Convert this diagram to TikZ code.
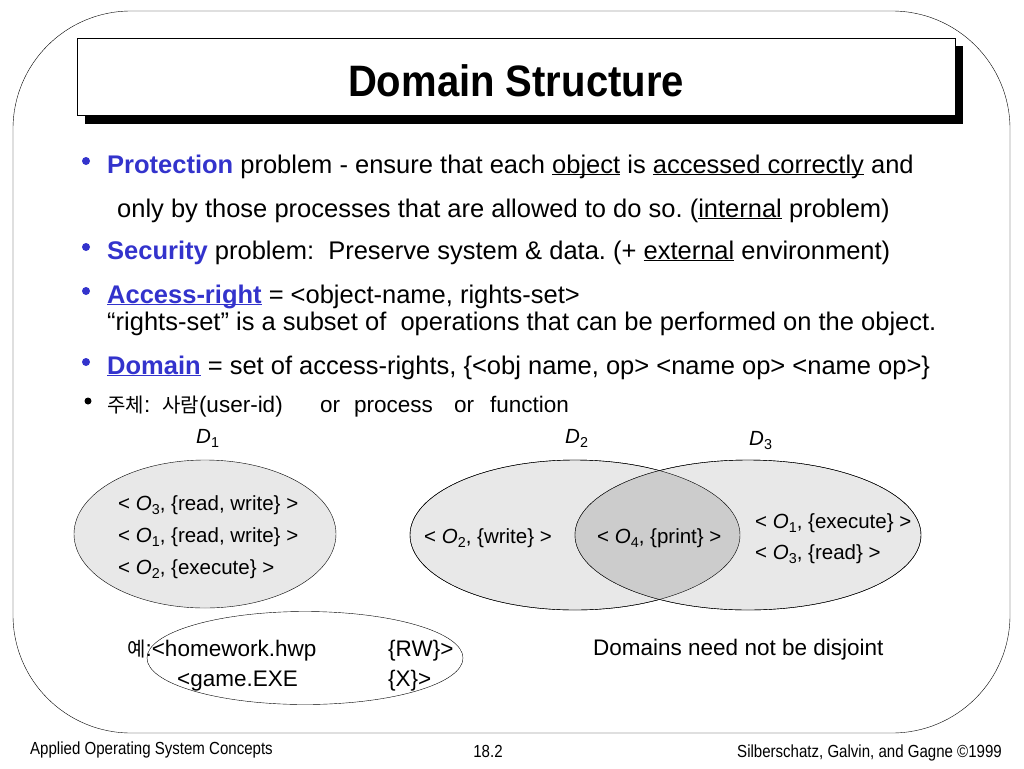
\documentclass[tikz,border=0pt]{standalone}
\usepackage{fontspec}
\setmainfont{Liberation Sans}
\newfontfamily\cjk{Noto Sans CJK KR}
\newfontfamily\narrow[FakeStretch=0.86]{Liberation Sans}
\newfontfamily\titlefont[FakeStretch=0.91]{Liberation Sans}
\definecolor{keyblue}{RGB}{51,51,204}
\definecolor{setfill}{RGB}{232,232,232}
\definecolor{lensfill}{RGB}{204,204,204}
\newcommand{\lowidx}[1]{\raisebox{-0.45ex}{\scalebox{0.7}{#1}}}
\newcommand{\objn}[1]{\textit{O}\lowidx{#1}}
\newcommand{\domn}[1]{\textit{D}\lowidx{#1}}
\newcommand{\undr}[1]{\underline{\smash{#1}}}
\newcommand{\key}[1]{\textcolor{keyblue}{\bfseries #1}}
\newcommand{\hangul}[1]{{\cjk\fontsize{20}{24}\selectfont #1}}
\frenchspacing
\tikzset{
  body/.style={anchor=base west, inner sep=0pt, font=\fontsize{25.5}{30}\selectfont},
  note/.style={anchor=base west, inner sep=0pt, font=\fontsize{22.5}{27}\selectfont},
  pair/.style={anchor=base west, inner sep=0pt, font=\fontsize{20.5}{24}\selectfont},
  foot/.style={anchor=base west, inner sep=0pt, font=\narrow\fontsize{17.5}{20}\selectfont},
}
\begin{document}
\begin{tikzpicture}[x=1pt,y=-1pt]
\useasboundingbox (0,0) rectangle (1024,768);
% slide frame and title box
\draw[rounded corners=118pt] (13,11) rectangle (1010,733);
\fill (85,46) rectangle (963,124);
\draw[fill=white] (77,38) rectangle (955,115);
\node[inner sep=0pt, font=\titlefont\bfseries\fontsize{44}{48}\selectfont] (title) at (516,81) {Domain Structure};
% bullets
\fill[keyblue] (86,161) circle (4pt);
\fill[keyblue] (86,247) circle (4pt);
\fill[keyblue] (86,291) circle (4pt);
\fill[keyblue] (86,362) circle (4pt);
\fill (88,401) circle (3.5pt);
\node[body] (prot) at (107,173) {\key{Protection} problem - ensure that each \undr{object} is \undr{accessed correctly} and};
\node[body] (prot2) at (117,217) {only by those processes that are allowed to do so. (\undr{internal} problem)};
\node[body] (secu) at (107,259) {\key{Security} problem:\ \ Preserve system \& data. (+ \undr{external} environment)};
\node[body] (accr) at (107,303) {\key{\undr{Access-right}} = <object-name, rights-set>};
\node[body] (accr2) at (107,330) {“rights-set” is a subset of\ \ operations that can be performed on the object.};
\node[body] (domn) at (107,374) {\key{\undr{Domain}} = set of access-rights, \{<obj name, op> <name op> <name op>\}};
\node[note] (subj) at (107,412) {\hangul{주체}:};
\node[note] (who) at (162,412) {\hangul{사람}(user-id)};
\node[note] (or1) at (320,412) {or};
\node[note] (proc) at (354,412) {process};
\node[note] (or2) at (454,412) {or};
\node[note] (func) at (490,412) {function};
% domains
\node[pair] (d1) at (196,443) {\domn{1}};
\node[pair] (d2) at (565,443) {\domn{2}};
\node[pair] (d3) at (749,445) {\domn{3}};
\draw[fill=setfill] (205,534) ellipse (131pt and 74pt);
\draw[fill=setfill] (575,535) ellipse (165pt and 75pt);
\draw[fill=setfill] (748,535) ellipse (173pt and 75pt);
\begin{scope}
\clip (575,535) ellipse (165pt and 75pt);
\fill[lensfill] (748,535) ellipse (173pt and 75pt);
\end{scope}
\draw (575,535) ellipse (165pt and 75pt);
\draw (748,535) ellipse (173pt and 75pt);
\node[pair] (o3a) at (118,510) {< \objn{3}, \{read, write\} >};
\node[pair] (o1a) at (118,542) {< \objn{1}, \{read, write\} >};
\node[pair] (o2a) at (118,574) {< \objn{2}, \{execute\} >};
\node[pair] (o2b) at (424,543) {< \objn{2}, \{write\} >};
\node[pair] (o4) at (597,543) {< \objn{4}, \{print\} >};
\node[pair] (o1c) at (755,528) {< \objn{1}, \{execute\} >};
\node[pair] (o3c) at (755,559) {< \objn{3}, \{read\} >};
% example
\node[note] (ex1) at (127,656) {\hangul{예}:<homework.hwp};
\node[note] (ex1r) at (388,656) {\{RW\}>};
\node[note] (ex2) at (177,686) {<game.EXE};
\node[note] (ex2r) at (388,686) {\{X\}>};
\draw (305,658) ellipse (158pt and 46.5pt);
\node[note] (disj) at (593,655) {Domains need not be disjoint};
% footer
\node[foot] (course) at (30,754) {Applied Operating System Concepts};
\node[foot, anchor=base] (page) at (488,757) {18.2};
\node[foot] (authors) at (737,757) {Silberschatz, Galvin, and Gagne ©1999};
\end{tikzpicture}
\end{document}
